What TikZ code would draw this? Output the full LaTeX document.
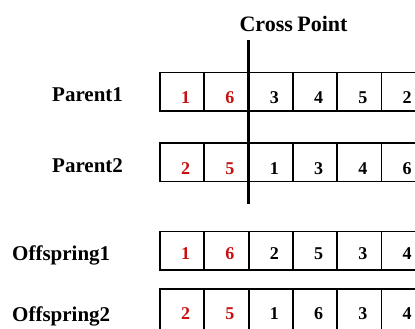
\documentclass[tikz,border=0pt]{standalone}
\usepackage{fontspec}
\setmainfont{Liberation Serif}
\begin{document}
\begin{tikzpicture}[x=1pt,y=1pt,
  cell/.style={draw=black,line width=1.8pt,minimum width=44.3pt,minimum height=38.5pt,inner sep=0pt,outer sep=0pt},
  lbl/.style={font=\fontsize{21}{24}\selectfont\bfseries,anchor=base west,inner sep=0pt},
  dig/.style={font=\fontsize{18}{20}\selectfont\bfseries,anchor=base,inner sep=0pt},
  red digit/.style={dig,text=redd}]
\definecolor{redd}{RGB}{200,16,16}
\useasboundingbox (0,0) rectangle (415,329);
\clip (0,0) rectangle (415,329);
% labels
\node[font=\fontsize{22}{24}\selectfont\bfseries,anchor=base,inner sep=0pt] (cp) at (293.5,297) {Cross\kern-1pt\ Point};
\node[lbl] (p1) at (52,227) {Parent1};
\node[lbl] (p2) at (52,156) {Parent2};
\node[lbl] (o1) at (12,68.3) {Offspring1};
\node[lbl] (o2) at (12,7.3) {Offspring2};
% rows: name / center y / height / digit baseline / digits
\foreach \row/\cy/\h/\by/\a/\b/\c/\d/\e/\f in {
  r1/237.3/38.5/225.7/1/6/3/4/5/2,
  r2/166.8/38.5/154/2/5/1/3/4/6,
  r3/78.3/38.5/69/1/6/2/5/3/4,
  r4/18.7/42/9/2/5/1/6/3/4}{
  \foreach \i/\v in {1/\a,2/\b,3/\c,4/\d,5/\e,6/\f}{
    \node[cell,minimum height=\h pt] (\row c\i) at ({160+44.3*(\i-0.5)},\cy) {};
    \ifnum\i<3
      \node[red digit] (\row d\i) at ({160+44.3*(\i-0.5)+3.5},\by) {\v};
    \else
      \node[dig] (\row d\i) at ({160+44.3*(\i-0.5)+3.5},\by) {\v};
    \fi
  }
}
% cross point line
\coordinate (cpTop) at (248.6,289);
\coordinate (cpBot) at (248.6,125);
\draw[line width=2.6pt] (cpTop) -- (cpBot);
\end{tikzpicture}
\end{document}
